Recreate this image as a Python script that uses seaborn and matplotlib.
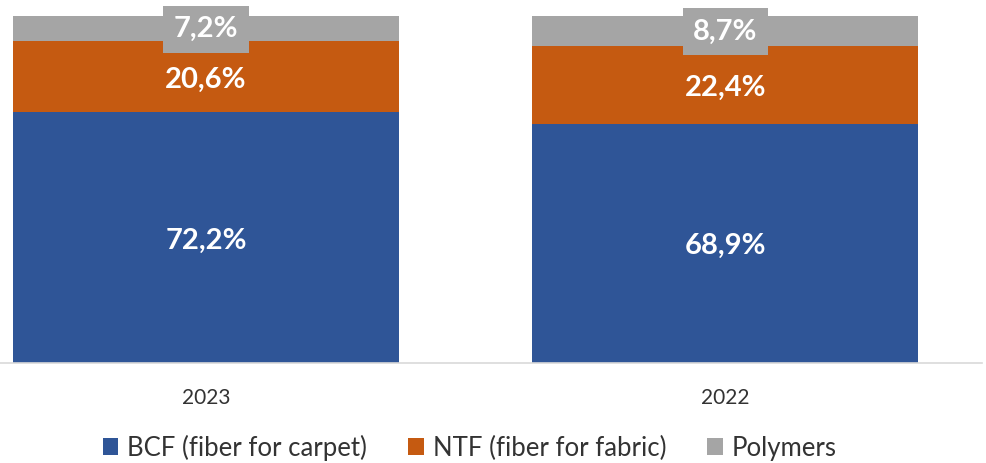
import matplotlib
matplotlib.use("Agg")
import matplotlib.pyplot as plt
import seaborn as sns
import pandas as pd
import numpy as np

years = ["2023", "2022"]
bcf = [72.2, 68.9]
ntf = [20.6, 22.4]
polymers = [7.2, 8.7]
series_names = ["BCF (fiber for carpet)", "NTF (fiber for fabric)", "Polymers"]
colors = ["#2F5597", "#C55A11", "#A5A5A5"]

sns.set_theme(style="white")
plt.rcParams["font.family"] = ["Lato", "DejaVu Sans"]

fig = plt.figure(figsize=(9.87, 4.63), dpi=100)
ax = fig.add_axes([0.0, 100 / 463, 982 / 987, 347 / 463])

cum1 = np.array(bcf)
cum2 = cum1 + np.array(ntf)
cum3 = cum2 + np.array(polymers)

df = pd.DataFrame({"year": years, "c1": cum1, "c2": cum2, "c3": cum3})
bw = 0.743
sns.barplot(data=df, x="year", y="c3", order=years, color=colors[2], width=bw,
            saturation=1, ax=ax, label=series_names[2], linewidth=0, edgecolor="none")
sns.barplot(data=df, x="year", y="c2", order=years, color=colors[1], width=bw,
            saturation=1, ax=ax, label=series_names[1], linewidth=0, edgecolor="none")
sns.barplot(data=df, x="year", y="c1", order=years, color=colors[0], width=bw,
            saturation=1, ax=ax, label=series_names[0], linewidth=0, edgecolor="none")

handles, labels = ax.get_legend_handles_labels()
if ax.get_legend() is not None:
    ax.get_legend().remove()

ax.set_xlim(-0.3965, 1.494)
ax.set_ylim(0, 100)
ax.set_xlabel("")
ax.set_ylabel("")
ax.set_yticks([])
for s in ["top", "left", "right"]:
    ax.spines[s].set_visible(False)
ax.spines["bottom"].set_color("#D9D9D9")
ax.spines["bottom"].set_linewidth(1.2)
ax.tick_params(axis="x", length=0, pad=18, labelsize=15, labelcolor="#333333")

fs = 21
def fmt(v):
    return f"{v:.1f}%".replace(".", ",")

for i in range(len(years)):
    ax.annotate(fmt(bcf[i]), (i, cum1[i] / 2), xytext=(0, -2), textcoords="offset points",
                ha="center", va="center", color="white", fontsize=fs, fontweight="bold")
    ax.annotate(fmt(ntf[i]), (i, (cum1[i] + cum2[i]) / 2), xytext=(0, -2),
                textcoords="offset points", ha="center", va="center", color="white",
                fontsize=fs, fontweight="bold")
    ax.annotate(fmt(polymers[i]), (i, (cum2[i] + cum3[i]) / 2), xytext=(0, -0.5),
                textcoords="offset points", ha="center", va="center", color="white",
                fontsize=fs, fontweight="bold", annotation_clip=False,
                bbox=dict(boxstyle="square,pad=0.36", fc=colors[2], ec="none"))

order = [labels.index(n) for n in series_names]
fig.legend([handles[k] for k in order], [labels[k] for k in order],
           loc="lower center", bbox_to_anchor=(0.476, -0.045), ncol=3, frameon=False,
           fontsize=18.5, handlelength=0.6, handleheight=0.6, handletextpad=0.35,
           columnspacing=1.6, labelcolor="#333333")

fig.savefig("out.png", dpi=100)
